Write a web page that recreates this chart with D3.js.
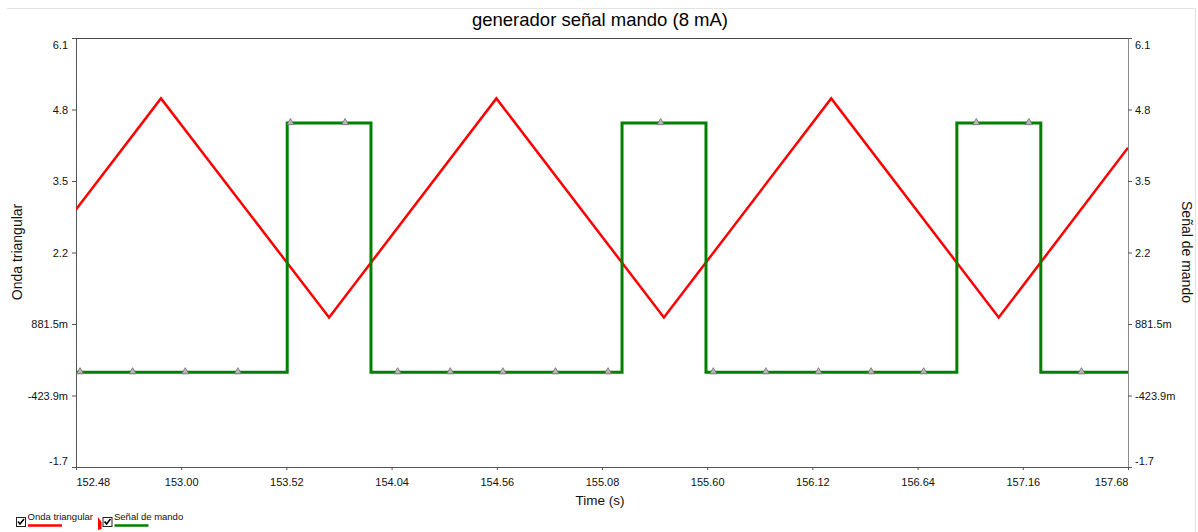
<!DOCTYPE html>
<html>
<head>
<meta charset="utf-8">
<script src="https://cdn.jsdelivr.net/npm/d3@7"></script>
<style>
  body { margin: 0; background: #fff; }
  svg { display: block; font-family: "Liberation Sans", Arial, sans-serif; }
</style>
</head>
<body>
<svg id="chart" width="1198" height="532"></svg>
<script>
// triangle wave vertices (time s, value)
var triTimes = [152.48, 152.90, 153.731, 154.558, 155.386, 156.213, 157.041, 157.68]
var triValues = [2.97, 5.0, 1.0, 5.0, 1.0, 5.0, 1.0, 4.10]

// control signal, step changes (time s, value)
var sqTimes = [152.48, 153.524, 153.938, 155.179, 155.594, 156.834, 157.249, 157.68]
var sqValues = [0, 4.55, 0, 4.55, 0, 4.55, 0, 0]

// times where the control signal shows a marker
var markerTimes = [152.50, 152.76, 153.02, 153.28, 153.54, 153.81, 154.07, 154.33, 154.59, 154.85,
  155.11, 155.37, 155.63, 155.89, 156.15, 156.41, 156.67, 156.93, 157.19, 157.45]

var xTickLabels = ['152.48', '153.00', '153.52', '154.04', '154.56', '155.08', '155.60', '156.12', '156.64', '157.16', '157.68']
var yTickLabels = ['-1.7', '-423.9m', '881.5m', '2.2', '3.5', '4.8', '6.1']

var xMin = 152.48, xMax = 157.68
var yMin = -1.7293, yMax = 6.1031

var svg = d3.select('#chart')
var plotLeft = 76, plotRight = 1128, plotTop = 38, plotBottom = 467

var xScale = d3.scaleLinear().domain([xMin, xMax]).range([plotLeft, plotRight])
var yScale = d3.scaleLinear().domain([yMin, yMax]).range([plotBottom, plotTop])

// light panel frame
svg.append('path')
  .attr('d', 'M7,8.5 H1195.5 V532')
  .attr('fill', 'none')
  .attr('stroke', '#e3e3e3')

// title
svg.append('text')
  .attr('x', 600)
  .attr('y', 26)
  .attr('text-anchor', 'middle')
  .attr('font-size', 18.5)
  .attr('fill', '#000')
  .text('generador señal mando (8 mA)')

svg.append('clipPath').attr('id', 'clip')
  .append('rect')
  .attr('x', plotLeft).attr('y', plotTop)
  .attr('width', plotRight - plotLeft).attr('height', plotBottom - plotTop)

var xTicks = xTickLabels.map(function(d, i) { return xMin + i * 0.52 })
var yTicks = yTickLabels.map(function(d, i) { return yMin + i * (yMax - yMin) / 6 })

// bottom axis
var xAxis = d3.axisBottom(xScale)
  .tickValues(xTicks)
  .tickSize(3)
  .tickSizeOuter(0)
  .tickFormat(function(d, i) { return xTickLabels[i] })

var gx = svg.append('g')
  .attr('transform', 'translate(0,' + plotBottom + ')')
  .call(xAxis)
gx.select('.domain').attr('stroke', '#555')
gx.selectAll('line').attr('stroke', '#555')
gx.selectAll('text')
  .attr('font-size', 11)
  .attr('fill', '#111')
  .attr('font-family', '"Liberation Sans", Arial, sans-serif')
  .attr('dy', null)
  .attr('y', 18.5)
  .attr('text-anchor', function(d, i) {
    if (i === 0) return 'start'
    if (i === xTicks.length - 1) return 'end'
    return 'middle'
  })

// left axis
var yAxisLeft = d3.axisLeft(yScale)
  .tickValues(yTicks)
  .tickSize(4)
  .tickSizeOuter(0)
  .tickFormat(function(d, i) { return yTickLabels[i] })

var gyl = svg.append('g')
  .attr('transform', 'translate(' + plotLeft + ',0)')
  .call(yAxisLeft)
gyl.select('.domain').attr('stroke', '#555')
gyl.selectAll('line').attr('stroke', '#555')
gyl.selectAll('text')
  .attr('font-size', 11)
  .attr('fill', '#111')
  .attr('font-family', '"Liberation Sans", Arial, sans-serif')
  .attr('x', -8)

// right axis
var yAxisRight = d3.axisRight(yScale)
  .tickValues(yTicks)
  .tickSize(4)
  .tickSizeOuter(0)
  .tickFormat(function(d, i) { return yTickLabels[i] })

var gyr = svg.append('g')
  .attr('transform', 'translate(' + plotRight + ',0)')
  .call(yAxisRight)
gyr.select('.domain').attr('stroke', '#8a8a8a')
gyr.selectAll('line').attr('stroke', '#555')
gyr.selectAll('text')
  .attr('font-size', 11)
  .attr('fill', '#111')
  .attr('font-family', '"Liberation Sans", Arial, sans-serif')
  .attr('x', 7)

// keep end labels inside the plot
;[gyl, gyr].forEach(function(g) {
  g.selectAll('.tick').each(function(d, i) {
    var t = d3.select(this).select('text')
    if (i === 0) t.attr('dy', '-0.2em')
    if (i === yTicks.length - 1) t.attr('dy', '0.95em')
  })
})

// top border
svg.append('line')
  .attr('x1', plotLeft).attr('x2', plotRight)
  .attr('y1', plotTop + 0.5).attr('y2', plotTop + 0.5)
  .attr('stroke', '#444')

// axis titles
svg.append('text')
  .attr('x', 600).attr('y', 505)
  .attr('text-anchor', 'middle')
  .attr('font-size', 13.5)
  .attr('fill', '#111')
  .text('Time (s)')

svg.append('text')
  .attr('transform', 'translate(22,252) rotate(-90)')
  .attr('text-anchor', 'middle')
  .attr('font-size', 14)
  .attr('fill', '#111')
  .text('Onda triangular')

svg.append('text')
  .attr('transform', 'translate(1182,252) rotate(90)')
  .attr('text-anchor', 'middle')
  .attr('font-size', 14)
  .attr('fill', '#111')
  .text('Señal de mando')

var plot = svg.append('g').attr('clip-path', 'url(#clip)')

// triangle wave
var triData = triTimes.map(function(t, i) { return { t: t, v: triValues[i] } })
var triLine = d3.line()
  .x(function(d) { return xScale(d.t) })
  .y(function(d) { return yScale(d.v) })

plot.append('path')
  .datum(triData)
  .attr('d', triLine)
  .attr('fill', 'none')
  .attr('stroke', '#ff0000')
  .attr('stroke-width', 2.5)
  .attr('stroke-linejoin', 'miter')

// control signal
var sqData = sqTimes.map(function(t, i) { return { t: t, v: sqValues[i] } })
var sqLine = d3.line()
  .curve(d3.curveStepAfter)
  .x(function(d) { return xScale(d.t) })
  .y(function(d) { return yScale(d.v) })

plot.append('path')
  .datum(sqData)
  .attr('d', sqLine)
  .attr('fill', 'none')
  .attr('stroke', '#008000')
  .attr('stroke-width', 3)

// value of the control signal at a given time
function sqAt(t) {
  var i = d3.bisectRight(sqTimes, t) - 1
  return sqValues[Math.max(0, i)]
}

var tri = d3.symbol().type(d3.symbolTriangle).size(22)
plot.selectAll('.marker')
  .data(markerTimes)
  .enter()
  .append('path')
  .attr('class', 'marker')
  .attr('d', tri)
  .attr('transform', function(d) {
    return 'translate(' + xScale(d) + ',' + (yScale(sqAt(d)) - 0.5) + ')'
  })
  .attr('fill', '#b8b8b8')
  .attr('stroke', '#6e6e6e')
  .attr('stroke-width', 0.8)

// legend
var legendItems = [
  { name: 'Onda triangular', color: '#ff0000', x: 16 },
  { name: 'Señal de mando', color: '#008000', x: 102.5 }
]

var legend = svg.selectAll('.legend')
  .data(legendItems)
  .enter()
  .append('g')
  .attr('transform', function(d) { return 'translate(' + d.x + ',517)' })

legend.append('rect')
  .attr('x', 0.5).attr('y', 0.5)
  .attr('width', 9).attr('height', 9)
  .attr('fill', '#fff')
  .attr('stroke', '#222')

legend.append('path')
  .attr('d', 'M2,4.5 L4,7 L8,2')
  .attr('fill', 'none')
  .attr('stroke', '#000')
  .attr('stroke-width', 1.6)

legend.append('text')
  .attr('x', 11.5).attr('y', 3)
  .attr('font-size', 9.5)
  .attr('fill', '#111')
  .text(function(d) { return d.name })

legend.append('line')
  .attr('x1', 12).attr('x2', 46)
  .attr('y1', 8.5).attr('y2', 8.5)
  .attr('stroke', function(d) { return d.color })
  .attr('stroke-width', 2.5)

// small red glyph between legend items
svg.append('path')
  .attr('d', 'M98,517 L101.5,522 L101.5,529 L98,530 Z')
  .attr('fill', '#ff0000')
</script>
</body>
</html>
